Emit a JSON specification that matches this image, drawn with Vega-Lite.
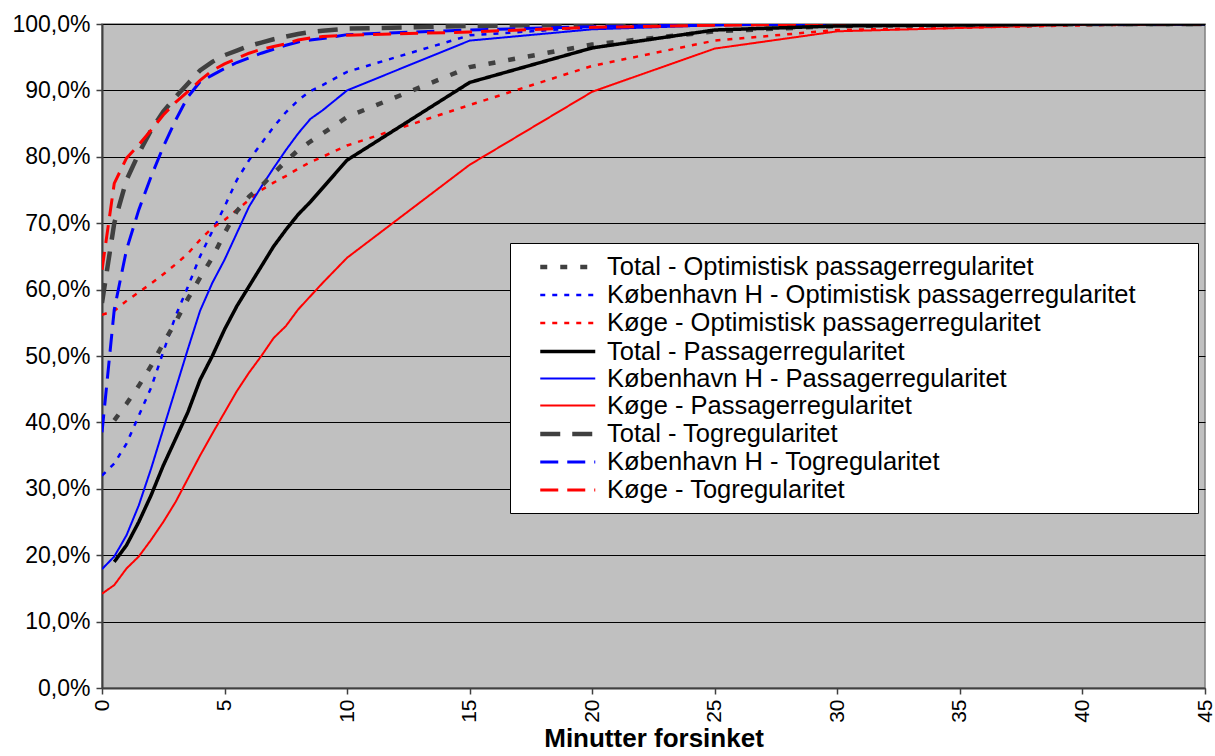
{
  "$schema": "https://vega.github.io/schema/vega-lite/v6.json",
  "autosize": "none",
  "width": 1103,
  "height": 664,
  "padding": {"left": 102, "top": 24, "right": 10, "bottom": 68},
  "background": "white",
  "config": {
    "font": "Liberation Sans",
    "view": {"fill": "#C0C0C0", "stroke": "#808080", "strokeWidth": 1.5}
  },
  "data": {
    "values": [
      {"t": 0, "Total - Optimistisk passagerregularitet": null, "København H - Optimistisk passagerregularitet": 32, "Køge - Optimistisk passagerregularitet": 56.2, "Total - Passagerregularitet": null, "København H - Passagerregularitet": 17.9, "Køge - Passagerregularitet": 14.2, "Total - Togregularitet": 58, "København H - Togregularitet": 38.5, "Køge - Togregularitet": 63},
      {"t": 0.5, "Total - Optimistisk passagerregularitet": 40.3, "København H - Optimistisk passagerregularitet": 33.8, "Køge - Optimistisk passagerregularitet": 56.8, "Total - Passagerregularitet": 19, "København H - Passagerregularitet": 19.8, "Køge - Passagerregularitet": 15.5, "Total - Togregularitet": 70, "København H - Togregularitet": 57, "Køge - Togregularitet": 76},
      {"t": 1, "Total - Optimistisk passagerregularitet": 42.8, "København H - Optimistisk passagerregularitet": 36.8, "Køge - Optimistisk passagerregularitet": 58.3, "Total - Passagerregularitet": 21.5, "København H - Passagerregularitet": 23, "Køge - Passagerregularitet": 18, "Total - Togregularitet": 76.5, "København H - Togregularitet": 66, "Køge - Togregularitet": 79.8},
      {"t": 1.5, "Total - Optimistisk passagerregularitet": 45.5, "København H - Optimistisk passagerregularitet": 41, "Køge - Optimistisk passagerregularitet": 59.6, "Total - Passagerregularitet": 25, "København H - Passagerregularitet": 27.5, "Køge - Passagerregularitet": 19.8, "Total - Togregularitet": 80.5, "København H - Togregularitet": 72, "Køge - Togregularitet": 81.8},
      {"t": 2, "Total - Optimistisk passagerregularitet": 48.5, "København H - Optimistisk passagerregularitet": 45.2, "Køge - Optimistisk passagerregularitet": 60.9, "Total - Passagerregularitet": 29, "København H - Passagerregularitet": 33, "Køge - Passagerregularitet": 22.3, "Total - Togregularitet": 84, "København H - Togregularitet": 77, "Køge - Togregularitet": 84},
      {"t": 2.5, "Total - Optimistisk passagerregularitet": 51.9, "København H - Optimistisk passagerregularitet": 50.6, "Køge - Optimistisk passagerregularitet": 62.3, "Total - Passagerregularitet": 33.5, "København H - Passagerregularitet": 39, "Køge - Passagerregularitet": 25, "Total - Togregularitet": 86.8, "København H - Togregularitet": 81.5, "Køge - Togregularitet": 86.3},
      {"t": 3, "Total - Optimistisk passagerregularitet": 55.1, "København H - Optimistisk passagerregularitet": 56, "Køge - Optimistisk passagerregularitet": 63.8, "Total - Passagerregularitet": 37.5, "København H - Passagerregularitet": 45, "Køge - Passagerregularitet": 28, "Total - Togregularitet": 89, "København H - Togregularitet": 85.5, "Køge - Togregularitet": 88.2},
      {"t": 3.5, "Total - Optimistisk passagerregularitet": 58.6, "København H - Optimistisk passagerregularitet": 60.4, "Køge - Optimistisk passagerregularitet": 65.4, "Total - Passagerregularitet": 41.5, "København H - Passagerregularitet": 51, "Køge - Passagerregularitet": 31.5, "Total - Togregularitet": 91, "København H - Togregularitet": 89, "Køge - Togregularitet": 89.8},
      {"t": 4, "Total - Optimistisk passagerregularitet": 61.8, "København H - Optimistisk passagerregularitet": 65, "Køge - Optimistisk passagerregularitet": 67.5, "Total - Passagerregularitet": 46.4, "København H - Passagerregularitet": 56.8, "Køge - Passagerregularitet": 35, "Total - Togregularitet": 93, "København H - Togregularitet": 91.3, "Køge - Togregularitet": 91.5},
      {"t": 4.5, "Total - Optimistisk passagerregularitet": 64.8, "København H - Optimistisk passagerregularitet": 68.8, "Køge - Optimistisk passagerregularitet": 69.3, "Total - Passagerregularitet": 50, "København H - Passagerregularitet": 61, "Køge - Passagerregularitet": 38.3, "Total - Togregularitet": 94.3, "København H - Togregularitet": 92.3, "Køge - Togregularitet": 93},
      {"t": 5, "Total - Optimistisk passagerregularitet": 68.5, "København H - Optimistisk passagerregularitet": 72.5, "Køge - Optimistisk passagerregularitet": 70.5, "Total - Passagerregularitet": 54, "København H - Passagerregularitet": 64.5, "Køge - Passagerregularitet": 41.5, "Total - Togregularitet": 95.3, "København H - Togregularitet": 93.3, "Køge - Togregularitet": 94},
      {"t": 5.5, "Total - Optimistisk passagerregularitet": 71.8, "København H - Optimistisk passagerregularitet": 76.5, "Køge - Optimistisk passagerregularitet": 72, "Total - Passagerregularitet": 57.5, "København H - Passagerregularitet": 68.5, "Køge - Passagerregularitet": 44.7, "Total - Togregularitet": 96, "København H - Togregularitet": 94.2, "Køge - Togregularitet": 94.8},
      {"t": 6, "Total - Optimistisk passagerregularitet": 74, "København H - Optimistisk passagerregularitet": 79.5, "Køge - Optimistisk passagerregularitet": 73.5, "Total - Passagerregularitet": 60.5, "København H - Passagerregularitet": 72.5, "Køge - Passagerregularitet": 47.5, "Total - Togregularitet": 96.7, "København H - Togregularitet": 94.9, "Køge - Togregularitet": 95.6},
      {"t": 6.5, "Total - Optimistisk passagerregularitet": 75.6, "København H - Optimistisk passagerregularitet": 82, "Køge - Optimistisk passagerregularitet": 75, "Total - Passagerregularitet": 63.5, "København H - Passagerregularitet": 75.5, "Køge - Passagerregularitet": 50, "Total - Togregularitet": 97.2, "København H - Togregularitet": 95.6, "Køge - Togregularitet": 96.2},
      {"t": 7, "Total - Optimistisk passagerregularitet": 77.5, "København H - Optimistisk passagerregularitet": 84.5, "Køge - Optimistisk passagerregularitet": 76.1, "Total - Passagerregularitet": 66.5, "København H - Passagerregularitet": 78.3, "Køge - Passagerregularitet": 52.7, "Total - Togregularitet": 97.7, "København H - Togregularitet": 96.2, "Køge - Togregularitet": 96.6},
      {"t": 7.5, "Total - Optimistisk passagerregularitet": 79.3, "København H - Optimistisk passagerregularitet": 86.7, "Køge - Optimistisk passagerregularitet": 77.1, "Total - Passagerregularitet": 69, "København H - Passagerregularitet": 81, "Køge - Passagerregularitet": 54.5, "Total - Togregularitet": 98.1, "København H - Togregularitet": 96.8, "Køge - Togregularitet": 97},
      {"t": 8, "Total - Optimistisk passagerregularitet": 81, "København H - Optimistisk passagerregularitet": 88.5, "Køge - Optimistisk passagerregularitet": 78.2, "Total - Passagerregularitet": 71.3, "København H - Passagerregularitet": 83.5, "Køge - Passagerregularitet": 57, "Total - Togregularitet": 98.5, "København H - Togregularitet": 97.3, "Køge - Togregularitet": 97.6},
      {"t": 8.5, "Total - Optimistisk passagerregularitet": 82.3, "København H - Optimistisk passagerregularitet": 89.9, "Køge - Optimistisk passagerregularitet": 79.2, "Total - Passagerregularitet": 73.2, "København H - Passagerregularitet": 85.7, "Køge - Passagerregularitet": 59, "Total - Togregularitet": 98.8, "København H - Togregularitet": 97.6, "Køge - Togregularitet": 97.9},
      {"t": 9, "Total - Optimistisk passagerregularitet": 83.5, "København H - Optimistisk passagerregularitet": 90.8, "Køge - Optimistisk passagerregularitet": 80, "Total - Passagerregularitet": 75.3, "København H - Passagerregularitet": 87, "Køge - Passagerregularitet": 61, "Total - Togregularitet": 99, "København H - Togregularitet": 97.8, "Køge - Togregularitet": 98.1},
      {"t": 10, "Total - Optimistisk passagerregularitet": 86, "København H - Optimistisk passagerregularitet": 92.8, "Køge - Optimistisk passagerregularitet": 81.7, "Total - Passagerregularitet": 79.5, "København H - Passagerregularitet": 90, "Køge - Passagerregularitet": 64.8, "Total - Togregularitet": 99.3, "København H - Togregularitet": 98.4, "Køge - Togregularitet": 98.3},
      {"t": 15, "Total - Optimistisk passagerregularitet": 93.5, "København H - Optimistisk passagerregularitet": 98.3, "Køge - Optimistisk passagerregularitet": 87.8, "Total - Passagerregularitet": 91.2, "København H - Passagerregularitet": 97.5, "Køge - Passagerregularitet": 78.8, "Total - Togregularitet": 99.7, "København H - Togregularitet": 99.1, "Køge - Togregularitet": 98.8},
      {"t": 20, "Total - Optimistisk passagerregularitet": 96.9, "København H - Optimistisk passagerregularitet": 99.5, "Køge - Optimistisk passagerregularitet": 93.7, "Total - Passagerregularitet": 96.4, "København H - Passagerregularitet": 99.2, "Køge - Passagerregularitet": 89.8, "Total - Togregularitet": 99.9, "København H - Togregularitet": 99.6, "Køge - Togregularitet": 99.5},
      {"t": 25, "Total - Optimistisk passagerregularitet": 98.9, "København H - Optimistisk passagerregularitet": 99.9, "Køge - Optimistisk passagerregularitet": 97.5, "Total - Passagerregularitet": 99.1, "København H - Passagerregularitet": 99.8, "Køge - Passagerregularitet": 96.3, "Total - Togregularitet": 100, "København H - Togregularitet": 99.9, "Køge - Togregularitet": 99.8},
      {"t": 30, "Total - Optimistisk passagerregularitet": 99.7, "København H - Optimistisk passagerregularitet": 100, "Køge - Optimistisk passagerregularitet": 99.1, "Total - Passagerregularitet": 99.7, "København H - Passagerregularitet": 100, "Køge - Passagerregularitet": 98.9, "Total - Togregularitet": 100, "København H - Togregularitet": 100, "Køge - Togregularitet": 100},
      {"t": 40, "Total - Optimistisk passagerregularitet": 100, "København H - Optimistisk passagerregularitet": 100, "Køge - Optimistisk passagerregularitet": 99.8, "Total - Passagerregularitet": 100, "København H - Passagerregularitet": 100, "Køge - Passagerregularitet": 99.9, "Total - Togregularitet": 100, "København H - Togregularitet": 100, "Køge - Togregularitet": 100},
      {"t": 45, "Total - Optimistisk passagerregularitet": 100, "København H - Optimistisk passagerregularitet": 100, "Køge - Optimistisk passagerregularitet": 100, "Total - Passagerregularitet": 100, "København H - Passagerregularitet": 100, "Køge - Passagerregularitet": 100, "Total - Togregularitet": 100, "København H - Togregularitet": 100, "Køge - Togregularitet": 100}
    ]
  },
  "transform": [
    {"fold": ["Total - Optimistisk passagerregularitet", "København H - Optimistisk passagerregularitet", "Køge - Optimistisk passagerregularitet", "Total - Passagerregularitet", "København H - Passagerregularitet", "Køge - Passagerregularitet", "Total - Togregularitet", "København H - Togregularitet", "Køge - Togregularitet"], "as": ["serie", "p"]},
    {"filter": "isValid(datum.p)"}
  ],
  "mark": {"type": "line", "clip": true},
  "encoding": {
    "x": {
      "field": "t", "type": "quantitative",
      "scale": {"domain": [0, 45], "nice": false, "zero": false},
      "axis": {
        "values": [0, 5, 10, 15, 20, 25, 30, 35, 40, 45],
        "labelAngle": -90, "labelAlign": "right", "labelBaseline": "middle",
        "labelFontSize": 21, "labelColor": "black", "labelPadding": 5,
        "title": "Minutter forsinket", "titleFontSize": 26, "titleFontWeight": "bold", "titleColor": "black", "titlePadding": 3,
        "grid": false, "domainColor": "#404040", "domainWidth": 2, "tickColor": "#404040", "tickSize": 6, "tickWidth": 1.5
      }
    },
    "y": {
      "field": "p", "type": "quantitative",
      "scale": {"domain": [0, 100], "nice": false},
      "axis": {
        "values": [0, 10, 20, 30, 40, 50, 60, 70, 80, 90, 100],
        "labelExpr": "replace(format(datum.value, '.1f'), '.', ',') + '%'",
        "labelFontSize": 23, "labelColor": "black", "labelPadding": 6,
        "title": null,
        "grid": true, "gridColor": "black", "gridWidth": 1, "gridOpacity": 1,
        "domainColor": "#404040", "domainWidth": 2, "tickColor": "#404040", "tickSize": 6, "tickWidth": 1.5
      }
    },
    "color": {
      "field": "serie", "type": "nominal",
      "scale": {
        "domain": ["Total - Optimistisk passagerregularitet", "København H - Optimistisk passagerregularitet", "Køge - Optimistisk passagerregularitet", "Total - Passagerregularitet", "København H - Passagerregularitet", "Køge - Passagerregularitet", "Total - Togregularitet", "København H - Togregularitet", "Køge - Togregularitet"],
        "range": ["#404040", "#0000FF", "#FF0000", "#000000", "#0000FF", "#FF0000", "#404040", "#0000FF", "#FF0000"]
      },
      "legend": {
        "title": " ", "titleOrient": "right", "titlePadding": 53, "titleFontSize": 10,
        "orient": "none", "legendX": 408, "legendY": 219,
        "symbolType": "M0.5,0H4.9", "symbolSize": 625,
        "labelFontSize": 25.5, "labelColor": "black", "labelLimit": 800,
        "fillColor": "white", "strokeColor": "black", "padding": 9,
        "rowPadding": 0, "labelOffset": 58
      }
    },
    "strokeDash": {
      "field": "serie", "type": "nominal",
      "scale": {
        "domain": ["Total - Optimistisk passagerregularitet", "København H - Optimistisk passagerregularitet", "Køge - Optimistisk passagerregularitet", "Total - Passagerregularitet", "København H - Passagerregularitet", "Køge - Passagerregularitet", "Total - Togregularitet", "København H - Togregularitet", "Køge - Togregularitet"],
        "range": [[7, 13], [5, 7], [5, 7], [1, 0], [1, 0], [1, 0], [20, 12], [18, 9], [18, 9]]
      },
      "legend": null
    },
    "strokeWidth": {
      "field": "serie", "type": "nominal",
      "scale": {
        "type": "ordinal",
        "domain": ["Total - Optimistisk passagerregularitet", "København H - Optimistisk passagerregularitet", "Køge - Optimistisk passagerregularitet", "Total - Passagerregularitet", "København H - Passagerregularitet", "Køge - Passagerregularitet", "Total - Togregularitet", "København H - Togregularitet", "Køge - Togregularitet"],
        "range": [4.5, 2.5, 2.5, 3.5, 2, 2, 4.5, 3, 3]
      },
      "legend": null
    }
  }
}
